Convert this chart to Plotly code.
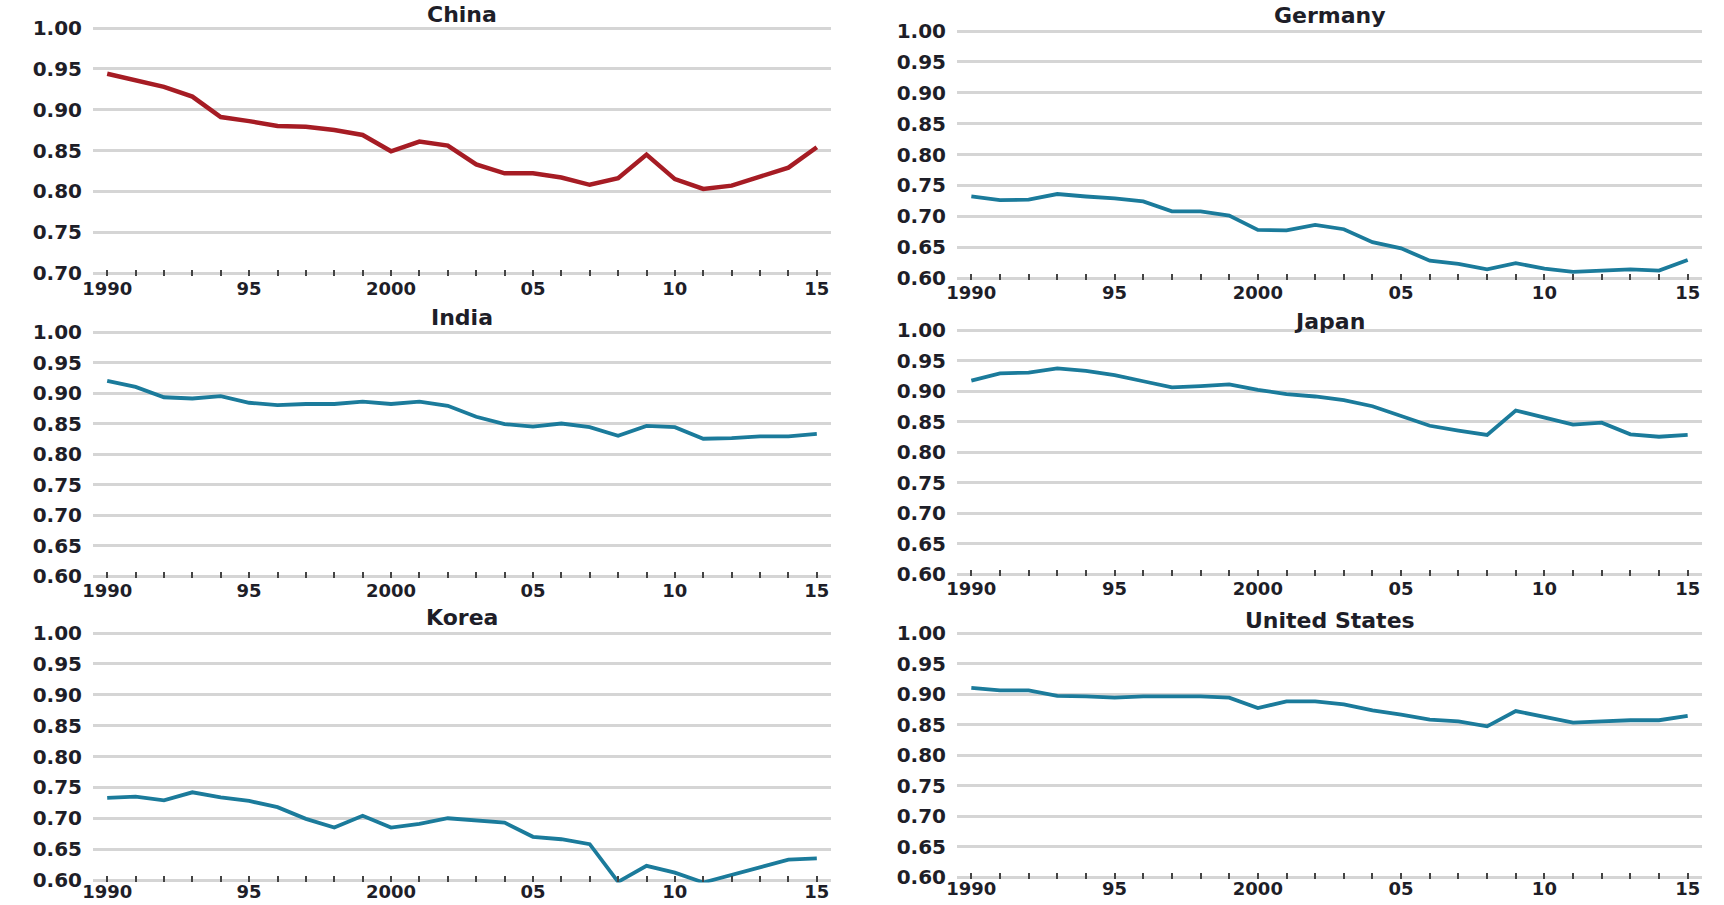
import plotly.graph_objects as go

# ---------------- data ----------------
years = list(range(1990, 2016))

china = [0.944, 0.936, 0.928, 0.916, 0.891, 0.886, 0.880, 0.879, 0.875, 0.869,
         0.849, 0.861, 0.856, 0.833, 0.822, 0.822, 0.817, 0.808, 0.816, 0.845,
         0.815, 0.803, 0.807, 0.818, 0.829, 0.854]
germany = [0.732, 0.726, 0.727, 0.736, 0.732, 0.729, 0.724, 0.708, 0.708, 0.701,
           0.678, 0.677, 0.686, 0.679, 0.658, 0.648, 0.628, 0.623, 0.614, 0.624,
           0.615, 0.610, 0.612, 0.614, 0.612, 0.629]
india = [0.920, 0.910, 0.893, 0.891, 0.895, 0.884, 0.880, 0.882, 0.882, 0.886,
         0.882, 0.886, 0.879, 0.861, 0.849, 0.845, 0.850, 0.844, 0.830, 0.846,
         0.844, 0.825, 0.826, 0.829, 0.829, 0.833]
japan = [0.917, 0.929, 0.930, 0.937, 0.933, 0.926, 0.916, 0.906, 0.908, 0.911,
         0.902, 0.895, 0.891, 0.885, 0.875, 0.859, 0.843, 0.835, 0.828, 0.868,
         0.857, 0.845, 0.848, 0.829, 0.825, 0.828]
korea = [0.733, 0.735, 0.729, 0.742, 0.734, 0.728, 0.718, 0.699, 0.685, 0.704,
         0.685, 0.691, 0.700, 0.697, 0.693, 0.670, 0.666, 0.658, 0.597, 0.623,
         0.612, 0.596, 0.608, 0.621, 0.633, 0.635]
united_states = [0.910, 0.906, 0.906, 0.897, 0.896, 0.894, 0.896, 0.896, 0.896, 0.894,
                 0.877, 0.888, 0.888, 0.883, 0.873, 0.866, 0.858, 0.855, 0.847, 0.872,
                 0.862, 0.853, 0.855, 0.857, 0.857, 0.864]

countries = ["China", "Germany", "India", "Japan", "Korea", "United States"]
series = [china, germany, india, japan, korea, united_states]
y_bottoms = [0.70, 0.60, 0.60, 0.60, 0.60, 0.60]
y_top = 1.00

label_years = {1990: "1990", 1995: "95", 2000: "2000", 2005: "05", 2010: "10", 2015: "15"}
x_tickvals = years
x_ticktext = [label_years.get(y, "") for y in years]

# ---------------- layout / style ----------------
W, H = 1724, 905
RED = "#A61C24"
TEAL = "#1B7B9B"
colors = [RED, TEAL, TEAL, TEAL, TEAL, TEAL]
GRID = "#D5D5D5"
TXT = "#1E1E28"
FONT = "DejaVu Sans"
FS_Y = 20
FS_X = 18
FS_TITLE = 22

# target pixel boxes (left, right) and (top gridline, bottom gridline)
col_x = [(93, 831), (957, 1702)]
row_y = [[(28, 273), (31, 278)],
         [(332, 576), (330, 574)],
         [(633, 880), (633, 877)]]
title_y = [[15, 16], [318, 321], [617, 620]]
x_label_standoff = [0, 0, -3]

PAD = 0.004  # keep edge gridlines inside the plot area

fig = go.Figure()
for i, (name, vals) in enumerate(zip(countries, series)):
    r, c = divmod(i, 2)
    k = i + 1
    xa = "x" if k == 1 else f"x{k}"
    ya = "y" if k == 1 else f"y{k}"
    fig.add_trace(go.Scatter(x=years, y=vals, mode="lines",
                             line=dict(color=colors[i], width=4.5 if i == 0 else 3.8),
                             xaxis=xa, yaxis=ya, showlegend=False,
                             hovertemplate="%{x}: %{y:.3f}<extra>" + name + "</extra>"))
    x0, x1 = col_x[c]
    t, b = row_y[r][c]
    lo = y_bottoms[i]
    ppu = (b - t) / (y_top - lo)
    padpx = PAD * ppu
    dom_y = [1 - (b + padpx) / H, 1 - (t - padpx) / H]
    dom_x = [x0 / W, x1 / W]
    xkey = "xaxis" if k == 1 else f"xaxis{k}"
    ykey = "yaxis" if k == 1 else f"yaxis{k}"
    fig.layout[xkey] = dict(domain=dom_x, anchor=ya, range=[1989.5, 2015.5],
                            automargin=False,
                            tickmode="array", tickvals=x_tickvals, ticktext=x_ticktext,
                            ticks="inside", ticklen=6, tickwidth=1.5, tickcolor="#444",
                            showgrid=False, zeroline=False, showline=False,
                            ticklabelstandoff=x_label_standoff[r],
                            tickfont=dict(family=FONT, size=FS_X, color=TXT, weight="bold"),
                            fixedrange=True)
    fig.layout[ykey] = dict(domain=dom_y, anchor=xa, range=[lo - PAD, y_top + PAD],
                            automargin=False,
                            tickmode="linear", tick0=0, dtick=0.05, tickformat=".2f",
                            showgrid=True, gridcolor=GRID, gridwidth=3,
                            zeroline=False, showline=False, ticks="",
                            ticklabelstandoff=10,
                            tickfont=dict(family=FONT, size=FS_Y, color=TXT, weight="bold"),
                            fixedrange=True)
    fig.add_annotation(text=name, x=(x0 + x1) / 2 / W, y=1 - title_y[r][c] / H,
                       xref="paper", yref="paper", xanchor="center", yanchor="middle",
                       showarrow=False,
                       font=dict(family=FONT, size=FS_TITLE, color=TXT, weight="bold"))

fig.update_layout(template="none", width=W, height=H, autosize=False,
                  margin=dict(l=0, r=0, t=0, b=0, autoexpand=False),
                  paper_bgcolor="white", plot_bgcolor="white")

fig.write_html("out.html", config={"displayModeBar": False},
               post_script="document.body.style.margin='0';document.body.style.overflow='hidden';")
